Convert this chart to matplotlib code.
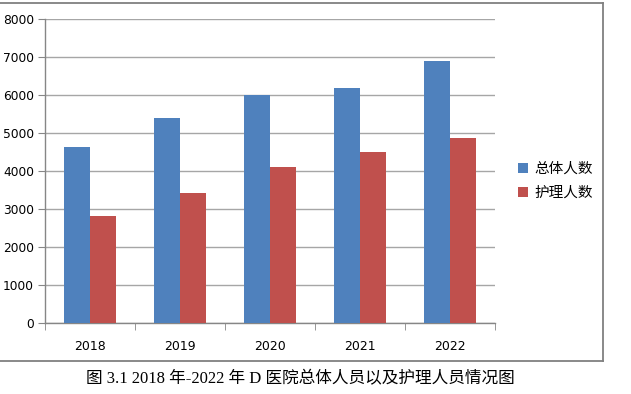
import matplotlib.pyplot as plt
import numpy as np
from matplotlib.lines import Line2D

years = ['2018', '2019', '2020', '2021', '2022']
total_staff = [4640, 5390, 6000, 6190, 6900]
nursing_staff = [2820, 3430, 4110, 4510, 4880]
series_labels = ['总体人数', '护理人数']
caption = '图 3.1 2018 年-2022 年 D 医院总体人员以及护理人员情况图'

BLUE = '#4F81BD'
RED = '#C0504D'
GRID = '#A6A6A6'
AXIS = '#868686'

W, H = 631, 394
fig = plt.figure(figsize=(W / 100, H / 100), dpi=100)
ax = fig.add_axes([45 / W, (H - 323) / H, 450 / W, 304 / H])

x = np.arange(len(years))
bw = 0.29
ax.bar(x - bw / 2, total_staff, bw, color=BLUE, label=series_labels[0], zorder=3)
ax.bar(x + bw / 2, nursing_staff, bw, color=RED, label=series_labels[1], zorder=3)

ax.set_xlim(-0.5, len(years) - 0.5)
ax.set_ylim(0, 8000)
ax.set_yticks(range(0, 8001, 1000))
ax.yaxis.grid(True, color=GRID, linewidth=1.0, zorder=0)

# category labels centred, ticks on the boundaries
ax.set_xticks(x)
ax.set_xticklabels(years)
ax.set_xticks(np.arange(-0.5, len(years)), minor=True)
ax.tick_params(axis='x', which='major', length=0, pad=12, labelsize=9)
ax.tick_params(axis='x', which='minor', length=5, color=AXIS, direction='out')
ax.tick_params(axis='y', length=5, color=AXIS, direction='out', pad=3, labelsize=8.8)

for side in ['top', 'right']:
    ax.spines[side].set_visible(False)
for side in ['left', 'bottom']:
    ax.spines[side].set_color(AXIS)
    ax.spines[side].set_linewidth(1.0)

fig.legend(loc='center left', bbox_to_anchor=(505 / W, 1 - 181 / H),
           frameon=False, handlelength=0.7, handleheight=0.7,
           handletextpad=0.4, labelspacing=0.7,
           prop={'family': ['Noto Sans CJK SC', 'DejaVu Sans'], 'size': 10.5})

# outer chart frame
frame = dict(color='#808080', linewidth=1.3, transform=fig.transFigure)
fig.add_artist(Line2D([0, 603 / W], [1 - 3 / H, 1 - 3 / H], **frame))
fig.add_artist(Line2D([603 / W, 603 / W], [1 - 3 / H, 1 - 361 / H], **frame))
fig.add_artist(Line2D([0, 603 / W], [1 - 361 / H, 1 - 361 / H], **frame))

fig.text(300 / W, 1 - 379 / H, caption, ha='center', va='center', fontsize=12,
         family=['Liberation Serif', 'Noto Sans CJK SC'])

fig.savefig('out.png', dpi=100)
